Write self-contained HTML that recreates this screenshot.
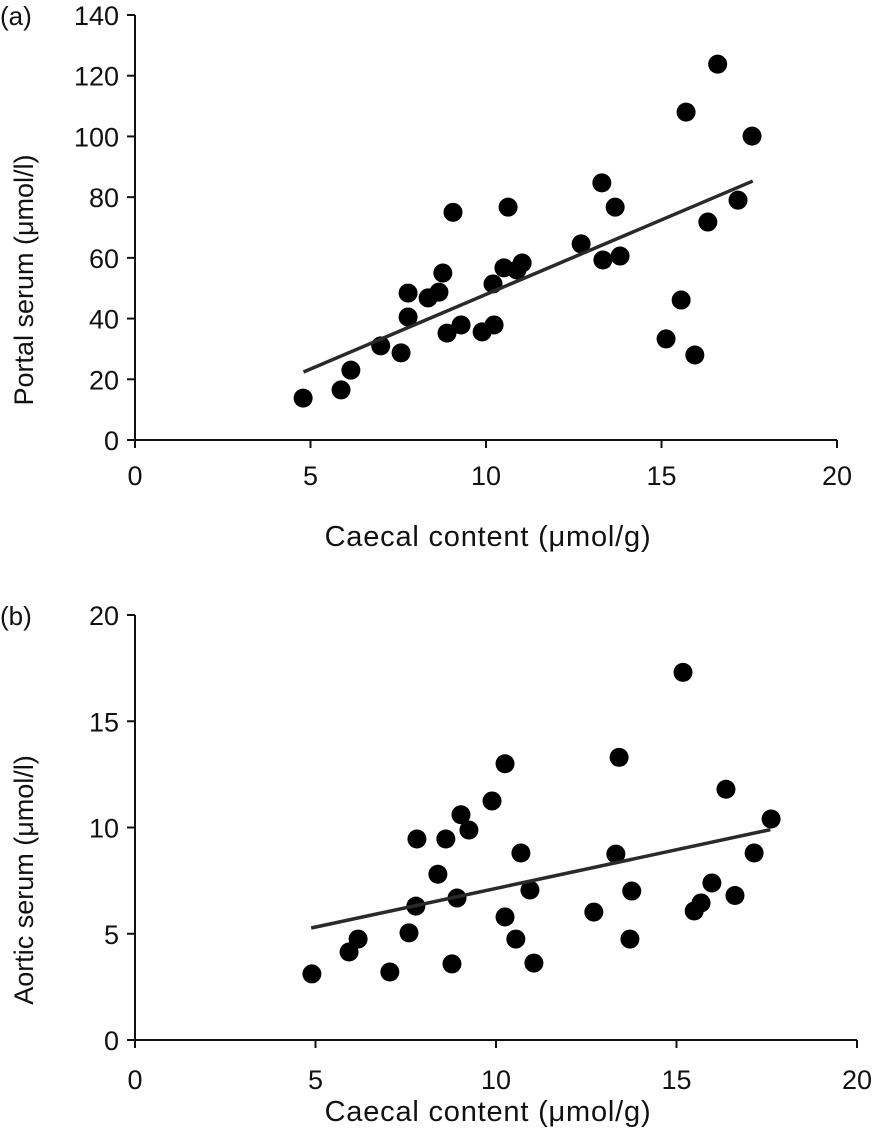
<!DOCTYPE html>
<html><head><meta charset="utf-8"><style>
body{margin:0;background:#fff}
svg text{font-family:"Liberation Sans",sans-serif;fill:#111}
</style></head><body>
<svg id="chart" width="877" height="1142" viewBox="0 0 877 1142"></svg>
<script>
const ax=[4.79,5.87,6.15,7.0,7.58,7.78,7.78,8.35,8.66,8.77,8.89,9.06,9.29,9.89,10.2,10.23,10.51,10.63,10.88,11.03,12.71,13.3,13.33,13.68,13.82,15.13,15.56,15.7,15.95,16.32,16.6,17.18,17.58];
const ay=[13.8,16.5,23,31,28.7,48.4,40.5,46.8,48.7,55,35.2,75,37.9,35.6,51.4,37.9,56.7,76.7,56,58.3,64.6,84.7,59.3,76.7,60.6,33.3,46.1,108,28,71.8,123.8,79,100.1];
const aFitX=[4.8,17.6];
const aFitY=[22.4,85.3];
const aXTicks=[0,5,10,15,20];
const aYTicks=[0,20,40,60,80,100,120,140];
const bx=[10.25,9.89,9.03,9.25,7.81,8.61,10.69,8.39,10.94,7.78,8.92,10.25,7.59,6.18,5.93,10.55,8.78,11.05,4.9,7.06,15.18,13.41,16.37,17.62,13.32,17.15,15.98,13.76,16.62,15.68,15.49,12.71,13.71];
const by=[13.0,11.25,10.6,9.88,9.46,9.46,8.8,7.8,7.06,6.3,6.68,5.79,5.04,4.75,4.14,4.75,3.58,3.62,3.11,3.2,17.3,13.3,11.8,10.4,8.75,8.8,7.39,7.01,6.8,6.45,6.07,6.02,4.75];
const bFitX=[4.88,17.6];
const bFitY=[5.27,9.9];
const bXTicks=[0,5,10,15,20];
const bYTicks=[0,5,10,15,20];
const NS='http://www.w3.org/2000/svg';
const svg=document.getElementById('chart');
function mk(t,a,parent){const e=document.createElementNS(NS,t);for(const k in a)e.setAttribute(k,a[k]);(parent||svg).appendChild(e);return e;}
function panel(cfg){
  const g=mk('g',{});
  
  
  const sx=v=>cfg.x0+(v/20)*(cfg.x1-cfg.x0);
  const sy=v=>cfg.y0-(v/cfg.ymax)*(cfg.y0-cfg.y1);
  const axes=mk('path',{d:`M${cfg.x0},${cfg.y1} V${cfg.y0} H${cfg.x1}`,fill:'none',stroke:'#111','stroke-width':2},g);
  
  
  cfg.xt.forEach(v=>{
    mk('line',{x1:sx(v),x2:sx(v),y1:cfg.y0,y2:cfg.y0+8,stroke:'#111','stroke-width':2},g);
    const t=mk('text',{x:sx(v),y:cfg.y0+cfg.xtOff,'text-anchor':'middle','font-size':27},g);t.textContent=v;
    
    
  });
  cfg.yt.forEach(v=>{
    mk('line',{x1:cfg.x0-8,x2:cfg.x0,y1:sy(v),y2:sy(v),stroke:'#111','stroke-width':2},g);
    const t=mk('text',{x:cfg.x0-16,y:sy(v)+10,'text-anchor':'end','font-size':27},g);t.textContent=v;
    
    
  });
  const xl=mk('text',{x:488,y:cfg.y0+cfg.titleOff,'text-anchor':'middle','font-size':29,'letter-spacing':'0.8'},g);xl.textContent='Caecal content (\u03bcmol/g)';
  
  
  const yl=mk('text',{x:0,y:0,'text-anchor':'middle','font-size':27,transform:`translate(33,${cfg.yTitleC}) rotate(-90)`},g);yl.textContent=cfg.ylab;
  
  
  const pl=mk('text',{x:0,y:cfg.y1+10,'font-size':26},g);pl.textContent=cfg.label;
  
  
  cfg.px.forEach((v,i)=>{
    const c=mk('circle',{cx:sx(v),cy:sy(cfg.py[i]),r:9.5,fill:'#000'},g);
    
    
  });
  const ln=mk('line',{x1:sx(cfg.fx[0]),y1:sy(cfg.fy[0]),x2:sx(cfg.fx[1]),y2:sy(cfg.fy[1]),stroke:'#2a2a2a','stroke-width':3.5},g);
  
  
}
panel({name:'panel-a',x0:135,x1:837,y0:440,y1:15,ymax:140,xt:aXTicks,yt:aYTicks,px:ax,py:ay,fx:aFitX,fy:aFitY,ylab:'Portal serum (\u03bcmol/l)',label:'(a)',xtOff:45,titleOff:106,yTitleC:280});
panel({name:'panel-b',x0:135,x1:857,y0:1040,y1:615,ymax:20,xt:bXTicks,yt:bYTicks,px:bx,py:by,fx:bFitX,fy:bFitY,ylab:'Aortic serum (\u03bcmol/l)',label:'(b)',xtOff:49,titleOff:81,yTitleC:880});
</script>
</body></html>
